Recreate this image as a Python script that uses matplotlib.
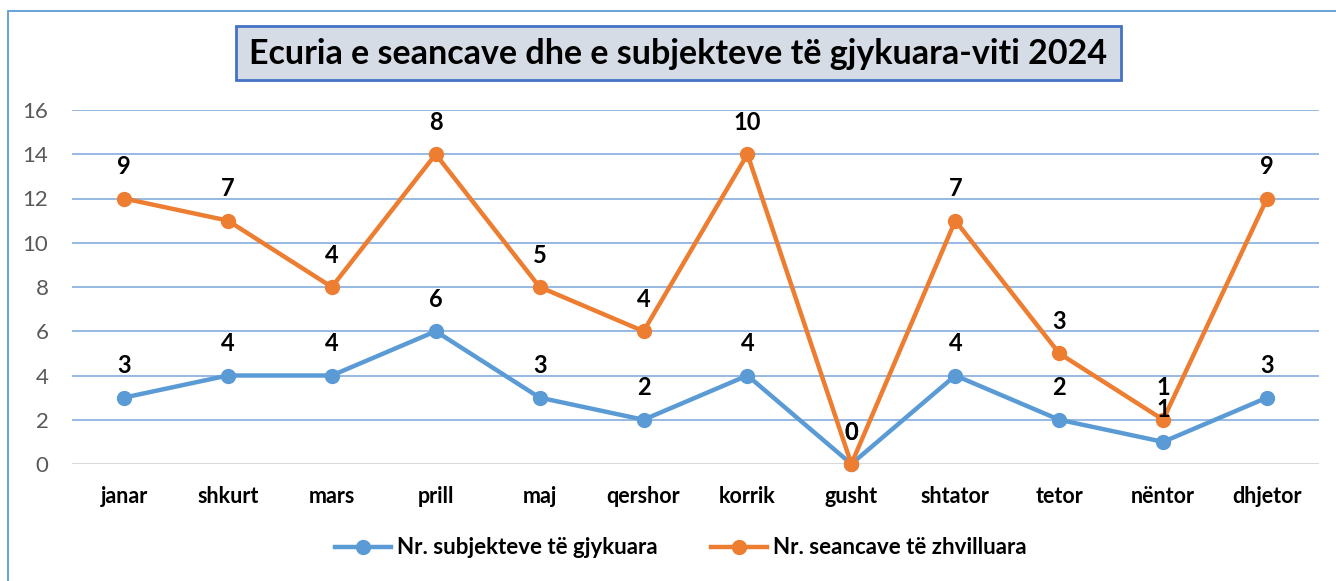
"""Ecuria e seancave dhe e subjekteve të gjykuara - viti 2024 (stacked line chart)."""

import matplotlib

matplotlib.use("Agg")
import matplotlib.pyplot as plt
from matplotlib.lines import Line2D
from matplotlib.patches import Rectangle
import numpy as np

months = ["janar", "shkurt", "mars", "prill", "maj", "qershor",
          "korrik", "gusht", "shtator", "tetor", "nëntor", "dhjetor"]
subjektet = [3, 4, 4, 6, 3, 2, 4, 0, 4, 2, 1, 3]
seancat = [9, 7, 4, 8, 5, 4, 10, 0, 7, 3, 1, 9]
y_ticks = [0, 2, 4, 6, 8, 10, 12, 14, 16]

title = "Ecuria e seancave dhe e subjekteve të gjykuara-viti 2024"
label_blue = "Nr. subjekteve të gjykuara"
label_orange = "Nr. seancave të zhvilluara"

BLUE = "#5b9bd5"
ORANGE = "#ed7d31"
GRID = "#8fb4e0"
FONT = ["Lato", "DejaVu Sans"]

plt.rcParams["font.family"] = FONT

W, H = 1336, 581
fig = plt.figure(figsize=(W / 100, H / 100), dpi=100)


def fx(px):
    return px / W


def fy(py):
    return 1 - py / H


ax = fig.add_axes([fx(72), fy(464), fx(1319) - fx(72), fy(110) - fy(464)])

x = np.arange(len(months))
blue = np.array(subjektet)
# stacked line: the sessions series sits on top of the subjects series
orange = blue + np.array(seancat)

ax.plot(x, blue, "-o", color=BLUE, lw=3.2, ms=10, zorder=4, clip_on=False)
ax.plot(x, orange, "-o", color=ORANGE, lw=3.2, ms=10, zorder=5, clip_on=False)

for xi, yb, vb in zip(x, blue, subjektet):
    ax.annotate(str(vb), (xi, yb), xytext=(0, 23), textcoords="offset points",
                ha="center", va="center", fontsize=17, fontweight="bold",
                color="black", zorder=6, annotation_clip=False)
for xi, yo, vo in zip(x, orange, seancat):
    ax.annotate(str(vo), (xi, yo), xytext=(0, 23), textcoords="offset points",
                ha="center", va="center", fontsize=17, fontweight="bold",
                color="black", zorder=6, annotation_clip=False)

ax.set_xlim(-0.5, len(months) - 0.5)
ax.set_ylim(0, 16)
ax.set_yticks(y_ticks)
ax.set_xticks(x)
ax.set_xticklabels(months, fontsize=15.5, fontweight="bold")
ax.tick_params(axis="y", length=0, pad=17, labelsize=16, labelcolor="#595959")
ax.tick_params(axis="x", length=0, pad=16)
for s in ax.spines.values():
    s.set_visible(False)
ax.yaxis.grid(True, color=GRID, lw=1.3)
ax.set_axisbelow(True)
ax.axhline(0, color="#d9d9d9", lw=1.5, zorder=1)

# title box
fig.patches.append(Rectangle((fx(236), fy(80)), fx(1121) - fx(236), fy(26) - fy(80),
                             transform=fig.transFigure, facecolor="#d6dce5",
                             edgecolor="#4472c4", lw=2))
fig.text(fx(678), fy(54), title, ha="center", va="center",
         fontsize=24.5, fontweight="bold", color="black")

# chart border (cropped at right and bottom)
fig.patches.append(Rectangle((fx(8), -0.2), 1.5, fy(11) + 0.2,
                             transform=fig.transFigure, fill=False,
                             edgecolor="#5b9bd5", lw=1.3))

handles = [
    Line2D([], [], color=BLUE, lw=3.2, marker="o", ms=10),
    Line2D([], [], color=ORANGE, lw=3.2, marker="o", ms=10),
]
fig.legend(handles, [label_blue, label_orange], loc="center",
           bbox_to_anchor=(fx(681), fy(548)), ncol=2, frameon=False,
           prop={"family": FONT, "weight": "bold", "size": 16},
           handlelength=2.5, columnspacing=2.4, handletextpad=0.3)

fig.savefig("out.png", dpi=100)
